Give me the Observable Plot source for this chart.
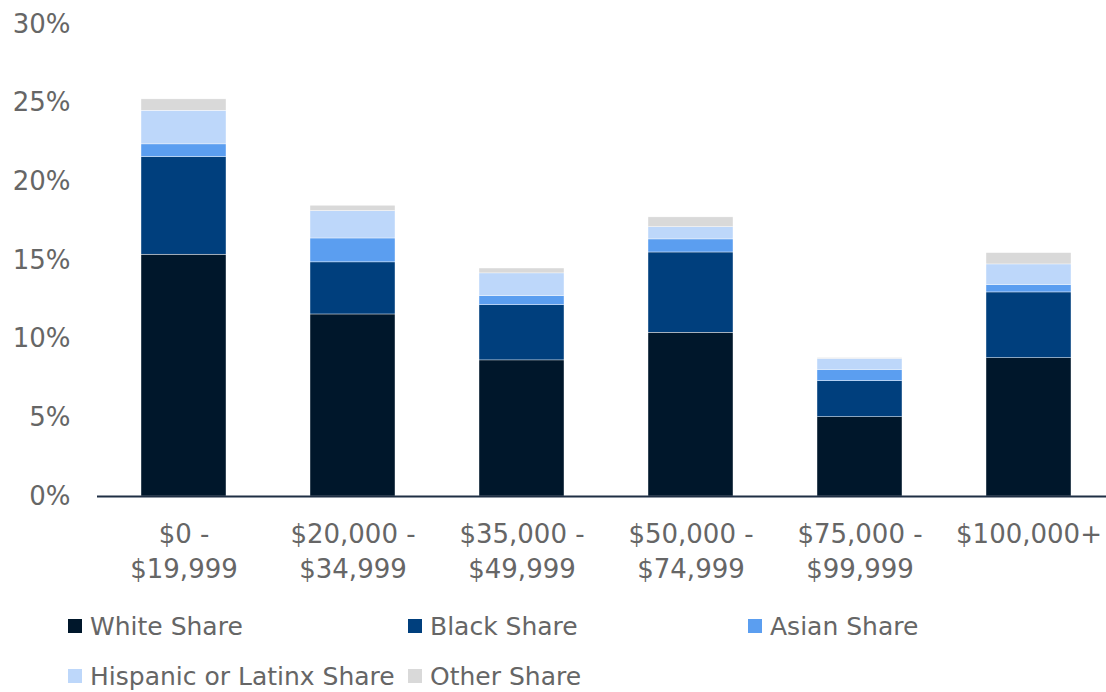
<!DOCTYPE html>
<html>
<head>
<meta charset="utf-8">
<script src="https://cdn.jsdelivr.net/npm/d3@7"></script>
<script src="https://cdn.jsdelivr.net/npm/@observablehq/plot@0.6"></script>
<style>
  body { margin: 0; background: #fff; font-family: "DejaVu Sans", sans-serif; }
  #legend { position: relative; height: 100px; width: 1106px; }
  .item { position: absolute; display: flex; align-items: center; font-size: 25px; color: #666; height: 50px; white-space: nowrap; }
  .sw { width: 14px; height: 14px; margin-right: 8px; }
</style>
</head>
<body>
<div id="chart"></div>
<div id="legend"></div>
<script>
const categories = ["$0 -\n$19,999", "$20,000 -\n$34,999", "$35,000 -\n$49,999", "$50,000 -\n$74,999", "$75,000 -\n$99,999", "$100,000+"];
const seriesNames = ["White Share", "Black Share", "Asian Share", "Hispanic or Latinx Share", "Other Share"];
const whiteShare    = [15.37, 11.57, 8.65, 10.41, 5.04, 8.79];
const blackShare    = [6.20, 3.31, 3.51, 5.10, 2.29, 4.18];
const asianShare    = [0.81, 1.52, 0.57, 0.83, 0.72, 0.46];
const hispanicShare = [2.14, 1.74, 1.45, 0.78, 0.70, 1.32];
const otherShare    = [0.72, 0.34, 0.31, 0.62, 0.05, 0.72];
const colors = ["#00172b", "#003f7d", "#5b9ef0", "#bdd7fa", "#d9d9d9"];
const yTicks = [0, 5, 10, 15, 20, 25, 30];

const seriesValues = [whiteShare, blackShare, asianShare, hispanicShare, otherShare];
const data = [];
seriesNames.forEach((s, si) => {
  categories.forEach((c, ci) => data.push({category: c, series: s, value: seriesValues[si][ci]}));
});

const chart = Plot.plot({
  width: 1106,
  height: 592,
  marginTop: 24,
  marginBottom: 96,
  marginLeft: 97,
  marginRight: 0,
  style: {fontFamily: "DejaVu Sans, sans-serif", fontSize: "26px", color: "#666", background: "#fff"},
  x: {domain: categories, range: [97, 1114], paddingInner: 0.5, paddingOuter: 0.25, label: null},
  y: {domain: [0, 30], label: null},
  color: {domain: seriesNames, range: colors},
  marks: [
    Plot.axisY({ticks: yTicks, tickSize: 0, tickPadding: 27, tickFormat: d => d + "%", fill: "#666", fontSize: 26}),
    Plot.axisX({tickSize: 0, tickPadding: 22, fill: "#666", fontSize: 26, lineHeight: 1.33}),
    Plot.barY(data, {x: "category", y: "value", fill: "series", order: seriesNames, stroke: "#fff", strokeWidth: 0.4}),
    Plot.ruleY([0], {stroke: "#1f2f44", strokeWidth: 2})
  ]
});
document.getElementById("chart").appendChild(chart);

const legend = document.getElementById("legend");
const pos = [[68, 9], [408, 9], [748, 9], [68, 59], [408, 59]];
seriesNames.forEach((s, i) => {
  const d = document.createElement("div");
  d.className = "item";
  d.style.left = pos[i][0] + "px";
  d.style.top = pos[i][1] + "px";
  d.innerHTML = `<span class="sw" style="background:${colors[i]}"></span>${s}`;
  legend.appendChild(d);
});
</script>
</body>
</html>
